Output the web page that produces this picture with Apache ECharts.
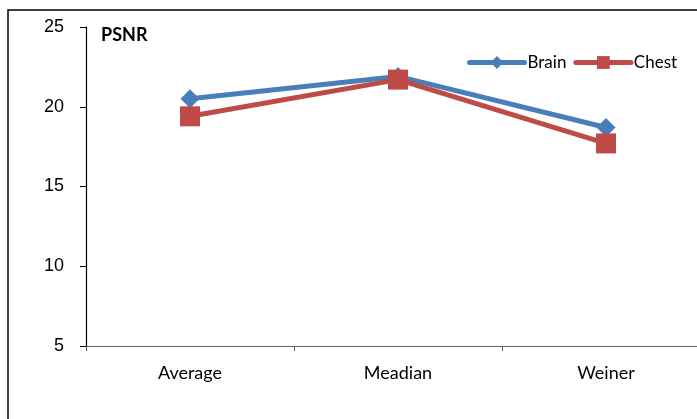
<!DOCTYPE html>
<html>
<head>
<meta charset="utf-8">
<script src="https://cdn.jsdelivr.net/npm/echarts@6/dist/echarts.min.js"></script>
<style>
html,body{margin:0;padding:0;background:#fff;overflow:hidden;width:697px;height:419px;}
#chart{width:720px;height:419px;}
</style>
</head>
<body>
<div id="chart"></div>
<script>
// PSNR per filter, for the two image sets
const categories = ['Average', 'Meadian', 'Weiner'];
const brain = [20.5, 21.9, 18.7];
const chest = [19.4, 21.7, 17.7];
const yTicks = [5, 10, 15, 20, 25];

// The plot runs past the right edge of the 697px window, so the canvas is wider.
const chart = echarts.init(document.getElementById('chart'));
chart.setOption({
  animation: false,
  backgroundColor: '#fff',
  graphic: [
    { type: 'rect', shape: { x: 8, y: 10, width: 740, height: 440 },
      style: { fill: 'none', stroke: '#000', lineWidth: 1.5 }, silent: true },
    { type: 'text', left: 101, top: 26,
      style: { text: 'PSNR', font: 'bold 18px Lato, "Open Sans", sans-serif', fill: '#000' } }
  ],
  legend: {
    left: 462, top: 49,
    itemWidth: 55, itemHeight: 16, itemGap: 7,
    lineStyle: { width: 5, cap: 'round' },
    textStyle: { fontFamily: 'Lato, "Open Sans", sans-serif', fontSize: 17, color: '#000', padding: [0, 0, 0, -2] },
    data: ['Brain', 'Chest']
  },
  grid: { left: 86, top: 27, width: 624, height: 319 },
  xAxis: {
    type: 'category',
    data: categories,
    boundaryGap: true,
    axisLine: { lineStyle: { color: '#606060', width: 1.2 } },
    axisTick: { show: true, length: 5, lineStyle: { color: '#606060' } },
    axisLabel: { margin: 18, fontFamily: 'Lato, "Open Sans", sans-serif', fontSize: 18, color: '#000' },
    splitLine: { show: false }
  },
  yAxis: {
    type: 'value',
    min: yTicks[0], max: yTicks[yTicks.length - 1], interval: 5,
    axisLine: { show: true, lineStyle: { color: '#000', width: 1.2 } },
    axisTick: { show: true, length: 6, lineStyle: { color: '#000' } },
    axisLabel: { margin: 22, fontFamily: '"Liberation Sans", Arial, sans-serif', fontSize: 18, color: '#000' },
    splitLine: { show: false }
  },
  series: [
    {
      name: 'Brain', type: 'line', data: brain,
      symbol: 'diamond', symbolSize: 19,
      lineStyle: { color: '#4A7EBB', width: 5 },
      itemStyle: { color: '#4A7EBB' },
      z: 2
    },
    {
      name: 'Chest', type: 'line', data: chest,
      symbol: 'rect', symbolSize: 20,
      lineStyle: { color: '#BE4B48', width: 5 },
      itemStyle: { color: '#BE4B48' },
      z: 3
    }
  ]
});
</script>
</body>
</html>
